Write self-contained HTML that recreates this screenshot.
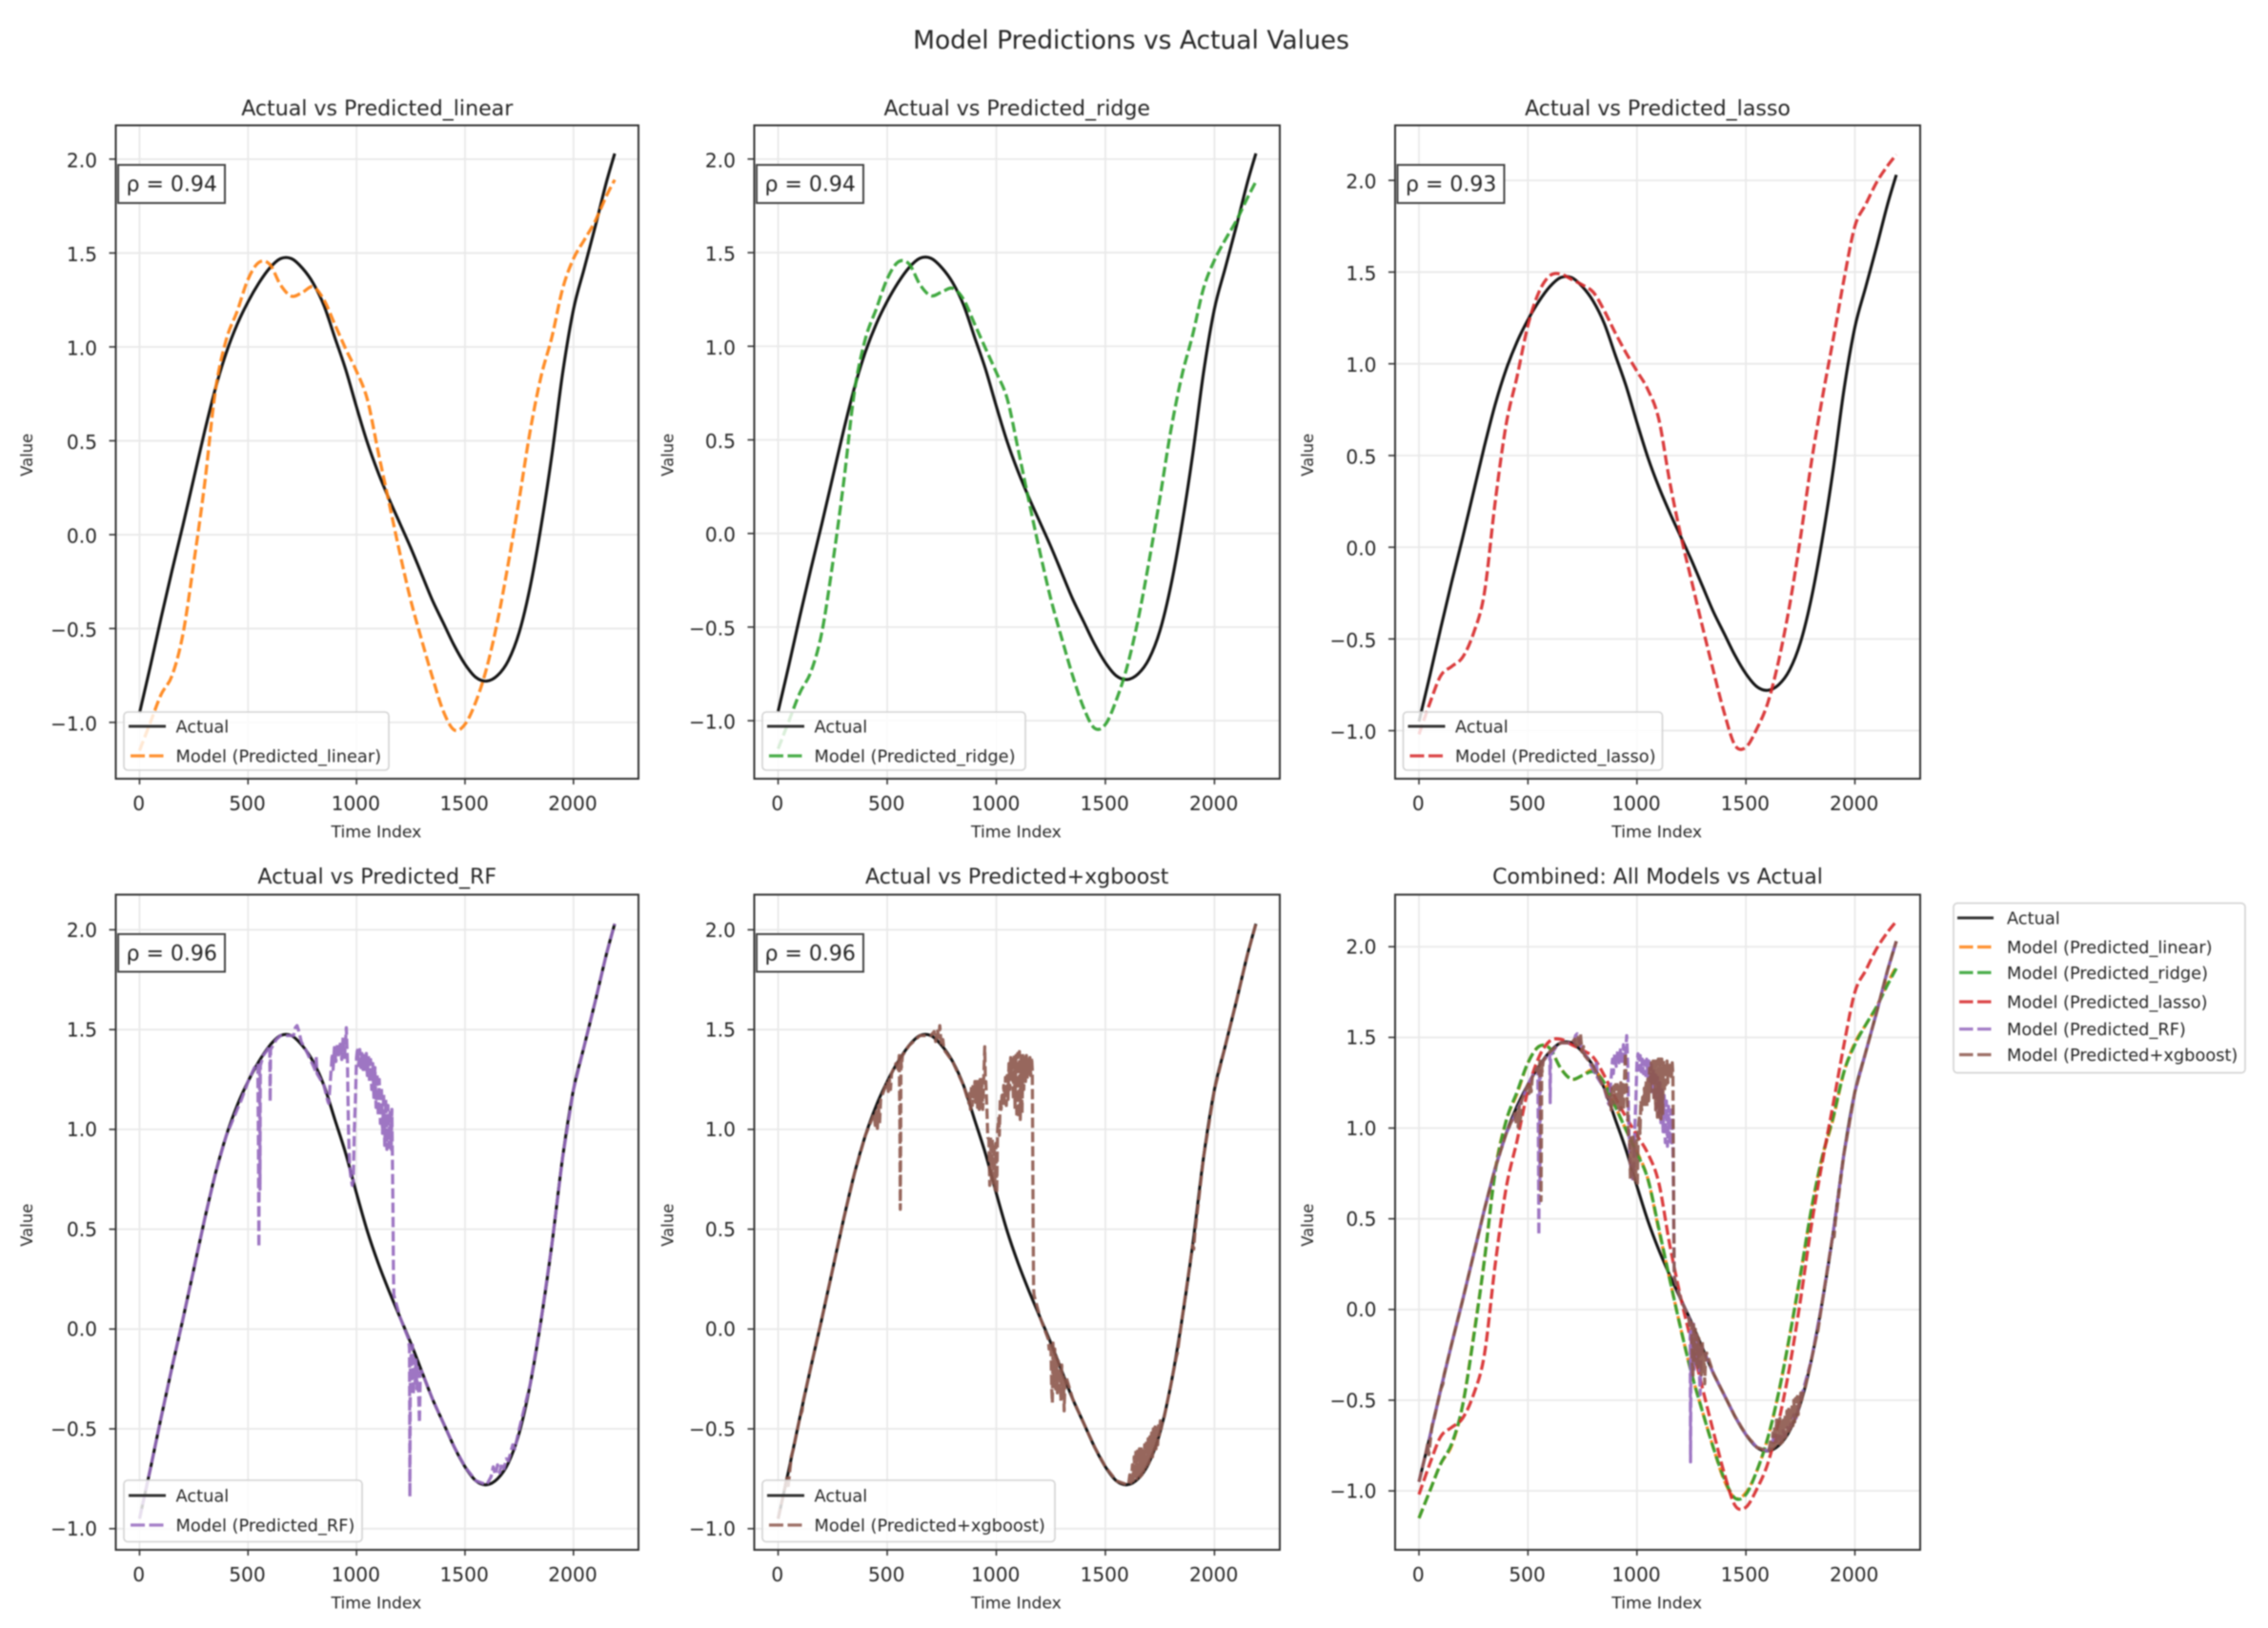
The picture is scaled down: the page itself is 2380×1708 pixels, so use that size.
<!DOCTYPE html>
<html lang="en">
<head>
<meta charset="utf-8">
<title>Model Predictions vs Actual Values</title>
<style>
html,body{margin:0;padding:0;background:#fff;width:2380px;height:1708px;overflow:hidden}
#figure{display:block;filter:blur(0.8px)}
text{font-family:"DejaVu Sans","Liberation Sans",sans-serif;fill:#262626}
</style>
</head>
<body>
<svg id="figure" xmlns="http://www.w3.org/2000/svg" width="2380" height="1708" viewBox="0 0 2380 1708">
<rect x="0" y="0" width="2380" height="1708" fill="#ffffff"/>
<text x="1187" y="51" font-size="26.5" text-anchor="middle">Model Predictions vs Actual Values</text>
</svg>
<script>
// ---------- data ----------
const timeIndex = [0,50,100,150,200,250,300,350,400,450,500,550,600,650,700,750,800,850,900,950,1000,1050,1100,1150,1200,1250,1300,1350,1400,1450,1500,1550,1600,1650,1700,1750,1800,1850,1900,1950,2000,2050,2100,2150,2190];
const actualValues = [-0.95,-0.70,-0.44,-0.19,0.05,0.30,0.55,0.78,0.97,1.12,1.24,1.34,1.42,1.47,1.47,1.42,1.34,1.22,1.05,0.88,0.68,0.49,0.33,0.19,0.06,-0.07,-0.21,-0.35,-0.47,-0.59,-0.69,-0.76,-0.78,-0.75,-0.67,-0.52,-0.28,0.04,0.42,0.86,1.20,1.42,1.64,1.87,2.03];
const linearValues = [-1.15,-1.00,-0.85,-0.75,-0.53,-0.15,0.27,0.77,1.04,1.19,1.36,1.45,1.44,1.33,1.27,1.29,1.32,1.25,1.12,0.99,0.87,0.72,0.44,0.17,-0.10,-0.35,-0.56,-0.76,-0.94,-1.04,-1.01,-0.89,-0.71,-0.46,-0.15,0.19,0.55,0.84,1.05,1.31,1.47,1.57,1.67,1.80,1.89];
const ridgeValues = [-1.15,-1.00,-0.85,-0.74,-0.53,-0.16,0.27,0.76,1.04,1.20,1.36,1.45,1.44,1.33,1.27,1.29,1.31,1.25,1.12,0.99,0.86,0.72,0.45,0.17,-0.10,-0.35,-0.56,-0.76,-0.93,-1.04,-1.02,-0.89,-0.71,-0.46,-0.15,0.19,0.55,0.84,1.06,1.31,1.46,1.57,1.67,1.79,1.88];
const lassoValues = [-1.02,-0.85,-0.70,-0.65,-0.60,-0.47,-0.25,0.25,0.67,0.93,1.21,1.39,1.48,1.49,1.46,1.43,1.39,1.29,1.17,1.06,0.96,0.86,0.70,0.36,0.07,-0.18,-0.43,-0.67,-0.90,-1.08,-1.09,-0.99,-0.85,-0.62,-0.32,0.05,0.46,0.81,1.13,1.46,1.75,1.87,1.99,2.08,2.14];

const rfTime = [
0,50,100,150,200,250,300,350,400,450,470,500,
530,545,548,550,552,553,555,557,570,590,600,602,
604,630,650,690,710,718,726,735,745,770,800,812,
814,818,850,868,872,880,888,892,898,905,912,918,
925,932,938,945,953,958,963,968,973,980,985,990,
995,1000,1005,1010,1015,1020,1025,1030,1035,1040,1045,1050,
1055,1060,1065,1070,1075,1080,1085,1090,1095,1100,1105,1110,
1115,1120,1125,1130,1135,1140,1145,1150,1155,1160,1163,1165,
1168,1170,1172,1200,1240,1244,1246,1248,1252,1255,1258,1262,
1266,1270,1274,1278,1282,1286,1290,1294,1300,1350,1400,1450,
1500,1550,1600,1620,1630,1640,1650,1660,1670,1680,1690,1700,
1710,1720,1730,1750,1800,1850,1900,1950,2000,2050,2100,2150,
2190];
const rfValues = [
-0.95,-0.70,-0.44,-0.19,0.05,0.30,0.55,0.78,0.97,1.10,1.15,1.24,
1.31,1.33,0.9,0.41,0.95,1.30,0.7,1.32,1.37,1.40,1.42,1.14,
1.40,1.45,1.47,1.47,1.47,1.51,1.52,1.49,1.44,1.39,1.32,1.29,
1.37,1.28,1.22,1.14,1.13,1.25,1.38,1.30,1.41,1.34,1.43,1.36,
1.44,1.35,1.46,1.36,1.51,1.35,1.0,0.82,0.77,0.72,0.74,1.0,
1.15,1.36,1.41,1.32,1.40,1.31,1.38,1.30,1.37,1.29,1.38,1.27,
1.37,1.24,1.35,1.20,1.33,1.16,1.31,1.11,1.28,1.07,1.25,1.03,
1.21,0.98,1.18,0.92,1.15,0.90,1.12,0.91,1.10,0.90,1.10,0.90,
0.6,0.3,0.17,0.06,-0.05,-0.1,-0.84,-0.2,-0.12,-0.30,-0.08,-0.33,
-0.15,-0.27,-0.14,-0.30,-0.18,-0.32,-0.47,-0.22,-0.21,-0.35,-0.47,-0.59,
-0.69,-0.76,-0.78,-0.74,-0.69,-0.73,-0.68,-0.72,-0.67,-0.70,-0.65,-0.66,
-0.62,-0.58,-0.60,-0.50,-0.28,0.04,0.42,0.86,1.20,1.42,1.64,1.87,
2.03];

const xgbTime = [
0,30,40,45,60,70,100,110,115,150,200,250,
300,350,400,440,445,450,455,460,465,470,500,505,
510,515,520,540,550,555,558,560,562,563,565,570,
600,650,700,715,722,730,736,741,748,755,760,800,
850,875,878,882,886,890,894,898,902,906,910,914,
918,922,926,930,934,938,942,947,950,952,957,961,
966,970,974,978,982,986,990,994,998,1002,1006,1011,
1014,1018,1022,1026,1030,1034,1038,1042,1046,1050,1054,1058,
1062,1066,1070,1074,1078,1082,1086,1090,1094,1098,1102,1106,
1110,1114,1118,1122,1126,1130,1134,1138,1142,1146,1150,1154,
1158,1162,1165,1167,1169,1171,1173,1200,1238,1242,1246,1250,
1254,1257,1260,1264,1268,1272,1276,1280,1284,1288,1292,1296,
1300,1304,1308,1311,1315,1320,1350,1400,1450,1500,1550,1600,
1606,1612,1618,1624,1628,1632,1636,1640,1644,1648,1652,1656,
1660,1664,1668,1672,1676,1680,1684,1688,1692,1696,1700,1704,
1708,1712,1716,1720,1724,1728,1732,1736,1740,1744,1748,1752,
1756,1762,1770,1800,1825,1830,1850,1900,1905,1910,1950,2000,
2050,2100,2150,2190];
const xgbValues = [
-0.95,-0.80,-0.74,-0.80,-0.64,-0.60,-0.44,-0.41,-0.36,-0.19,0.05,0.30,
0.55,0.78,0.97,1.08,1.02,1.10,1.005,1.12,1.03,1.15,1.24,1.19,
1.25,1.20,1.28,1.33,1.30,1.37,1.0,0.60,1.0,1.36,1.31,1.37,
1.42,1.47,1.47,1.49,1.44,1.50,1.46,1.52,1.42,1.45,1.40,1.34,
1.22,1.13,1.19,1.10,1.22,1.12,1.23,1.15,1.24,1.12,1.24,1.11,
1.24,1.10,1.25,1.11,1.25,1.10,1.24,1.414,1.24,1.24,1.10,0.96,
0.95,0.72,0.96,0.74,0.95,0.72,0.93,0.70,0.93,0.68,1.0,1.056,
0.97,1.15,1.10,1.17,1.13,1.22,1.13,1.26,1.12,1.27,1.15,1.33,
1.20,1.36,1.25,1.37,1.15,1.37,1.10,1.37,1.06,1.38,1.06,1.39,
1.05,1.38,1.08,1.37,1.20,1.36,1.24,1.37,1.25,1.35,1.28,1.36,
1.27,1.36,1.30,0.9,0.5,0.2,0.17,0.06,-0.05,-0.10,-0.08,-0.07,
-0.30,-0.37,-0.07,-0.28,-0.10,-0.30,-0.14,-0.32,-0.16,-0.30,-0.20,-0.36,
-0.18,-0.34,-0.24,-0.41,-0.26,-0.24,-0.35,-0.47,-0.59,-0.69,-0.76,-0.78,
-0.78,-0.73,-0.77,-0.68,-0.76,-0.64,-0.75,-0.61,-0.75,-0.60,-0.74,-0.60,
-0.74,-0.60,-0.73,-0.61,-0.71,-0.58,-0.70,-0.56,-0.69,-0.55,-0.67,-0.54,
-0.65,-0.52,-0.64,-0.50,-0.62,-0.49,-0.60,-0.48,-0.58,-0.47,-0.53,-0.46,
-0.50,-0.46,-0.44,-0.28,-0.14,-0.12,0.04,0.42,0.40,0.48,0.86,1.20,
1.42,1.64,1.87,2.03];

const xTickValues = [0,500,1000,1500,2000];
const yTickValues = [-1.0,-0.5,0.0,0.5,1.0,1.5,2.0];
const xDomain = [-109.5,2299.5];
const yDomainLinear = [-1.30,2.18];
const yDomainRidge = [-1.31,2.18];
const yDomainLasso = [-1.262,2.30];
const yDomainRF = [-1.106,2.176];
const yDomainXgb = [-1.106,2.176];
const yDomainCombined = [-1.325,2.287];
const rhoLinear = "ρ = 0.94";
const rhoRidge = "ρ = 0.94";
const rhoLasso = "ρ = 0.93";
const rhoRF = "ρ = 0.96";
const rhoXgb = "ρ = 0.96";

// ---------- series definitions ----------
const seriesLinear = {key:'linear',label:'Model (Predicted_linear)',color:'#ff7f0e',t:timeIndex,v:linearValues,smooth:true};
const seriesRidge = {key:'ridge',label:'Model (Predicted_ridge)',color:'#2ca02c',t:timeIndex,v:ridgeValues,smooth:true};
const seriesLasso = {key:'lasso',label:'Model (Predicted_lasso)',color:'#d62728',t:timeIndex,v:lassoValues,smooth:true};
const seriesRF = {key:'rf',label:'Model (Predicted_RF)',color:'#9467bd',t:rfTime,v:rfValues,smooth:false};
const seriesXgb = {key:'xgboost',label:'Model (Predicted+xgboost)',color:'#8c564b',t:xgbTime,v:xgbValues,smooth:false};

// ---------- layout ----------
const NS = 'http://www.w3.org/2000/svg';
const root = document.getElementById('figure');
const rowTop = [131.5,938.6], rowBottom = [817,1626];
const colLeft = [121.5,791.5,1464], colRight = [670,1343,2015];
const rhoBoxTop = [173,980], rhoBoxHeight = [40,39.5];
const legendTop = [747,1553], legendHeight = [61,64.5];
const legendRowA = [762,1569], legendRowB = [793,1600];
const yLabelX = [28,700.5,1372];
const rowTextNudge = [1.2,0];

function svgEl(parent, tag, attrs, name) {
  const el = document.createElementNS(NS, tag);
  for (const k in attrs) el.setAttribute(k, attrs[k]);
  
  
  parent.appendChild(el);
  return el;
}
function label(parent, x, y, str, size, anchor, name, transform) {
  const a = {x:x, y:y, 'font-size':size, 'text-anchor':anchor};
  if (transform) a.transform = transform;
  const el = svgEl(parent, 'text', a, name);
  el.textContent = str;
  return el;
}
function xAxisScale(left, right) {
  return t => left + (t - xDomain[0]) * (right - left) / (xDomain[1] - xDomain[0]);
}
function yAxisScale(top, bottom, dom) {
  return v => bottom - (v - dom[0]) * (bottom - top) / (dom[1] - dom[0]);
}
function fmtTick(v) {
  return (v < 0 ? '\u2212' : '') + Math.abs(v).toFixed(1);
}
// curve through the mapped data points (keeps the reference's smooth look)
function curvePath(px, py) {
  let d = 'M' + px[0].toFixed(2) + ' ' + py[0].toFixed(2);
  const n = px.length;
  for (let i = 0; i < n - 1; i++) {
    const i0 = Math.max(i - 1, 0), i3 = Math.min(i + 2, n - 1);
    const c1x = px[i] + (px[i+1] - px[i0]) / 6, c1y = py[i] + (py[i+1] - py[i0]) / 6;
    const c2x = px[i+1] - (px[i3] - px[i]) / 6, c2y = py[i+1] - (py[i3] - py[i]) / 6;
    d += 'C' + c1x.toFixed(2) + ' ' + c1y.toFixed(2) + ' ' + c2x.toFixed(2) + ' ' + c2y.toFixed(2) + ' ' + px[i+1].toFixed(2) + ' ' + py[i+1].toFixed(2);
  }
  return d;
}
function drawActual(g, sx, sy) {
  const d = curvePath(timeIndex.map(sx), actualValues.map(sy));
  svgEl(g, 'path', {d:d, fill:'none', stroke:'#141414', 'stroke-width':3.1, 'stroke-linejoin':'round'}, 'actual-line');
}
function drawModel(g, s, sx, sy) {
  const n = Math.min(s.t.length, s.v.length);
  const style = {fill:'none', stroke:s.color, 'stroke-opacity':0.9, 'stroke-width':3.3, 'stroke-dasharray':'10.8,4.2', 'stroke-linejoin':'round'};
  if (s.smooth) {
    style.d = curvePath(s.t.slice(0,n).map(sx), s.v.slice(0,n).map(sy));
    svgEl(g, 'path', style, s.key + '-prediction-line');
  } else {
    const pts = [];
    for (let i = 0; i < n; i++) pts.push(sx(s.t[i]).toFixed(2) + ',' + sy(s.v[i]).toFixed(2));
    style.points = pts.join(' ');
    svgEl(g, 'polyline', style, s.key + '-prediction-line');
  }
}

function drawPanel(cfg) {
  const left = colLeft[cfg.col], right = colRight[cfg.col], top = rowTop[cfg.row], bottom = rowBottom[cfg.row];
  const sx = xAxisScale(left, right), sy = yAxisScale(top, bottom, cfg.yDomain);
  const nudge = rowTextNudge[cfg.row];
  const g = svgEl(root, 'g', {}, cfg.name);
  const grid = svgEl(g, 'g', {stroke:'#e9e9e9', 'stroke-width':1.8}, 'gridlines');
  xTickValues.forEach(t => {
    svgEl(grid, 'line', {x1:sx(t), x2:sx(t), y1:top, y2:bottom}, 'x-gridline');
  });
  yTickValues.forEach(v => {
    svgEl(grid, 'line', {x1:left, x2:right, y1:sy(v), y2:sy(v)}, 'y-gridline');
  });
  drawActual(g, sx, sy);
  cfg.series.forEach(s => drawModel(g, s, sx, sy));
  svgEl(g, 'rect', {x:left, y:top, width:right-left, height:bottom-top, fill:'none', stroke:'#333333', 'stroke-width':2}, 'plot-frame');
  const xAxis = svgEl(g, 'g', {}, 'x-axis');
  xTickValues.forEach(t => {
    svgEl(xAxis, 'line', {x1:sx(t), x2:sx(t), y1:bottom, y2:bottom+6, stroke:'#333333', 'stroke-width':1.6}, 'x-tick');
    label(xAxis, sx(t)-0.8, bottom+33, String(t), 20.2, 'middle', 'x-tick-label');
  });
  const yAxis = svgEl(g, 'g', {}, 'y-axis');
  yTickValues.forEach(v => {
    svgEl(yAxis, 'line', {x1:left-7, x2:left, y1:sy(v), y2:sy(v), stroke:'#333333', 'stroke-width':1.6}, 'y-tick');
    label(yAxis, left-19.5, sy(v)+7.3+nudge, fmtTick(v), 20.2, 'end', 'y-tick-label');
  });
  label(g, (left+right)/2, top-11.5+nudge, cfg.title, 22.1, 'middle', 'panel-title');
  label(g, (left+right)/2-0.8, bottom+61.5, 'Time Index', 17.2, 'middle', 'x-axis-title');
  const lx = yLabelX[cfg.col], ly = (top+bottom)/2 + 3;
  label(g, 0, 0, 'Value', 16.4, 'middle', 'y-axis-title', 'translate(' + (lx+6) + ',' + ly + ') rotate(-90)');
  if (cfg.rho) {
    const by = rhoBoxTop[cfg.row], bh = rhoBoxHeight[cfg.row];
    const box = svgEl(g, 'g', {}, 'correlation-annotation');
    svgEl(box, 'rect', {x:left+2.5, y:by, width:112, height:bh, fill:'#ffffff', stroke:'#444444', 'stroke-width':2}, 'correlation-box');
    label(box, left+11, by+bh/2+7.7, cfg.rho, 22, 'start', 'correlation-value');
  }
  if (cfg.legendWidth) {
    const lg = svgEl(g, 'g', {}, 'legend');
    const lgx = left + 8.5;
    svgEl(lg, 'rect', {x:lgx, y:legendTop[cfg.row], width:cfg.legendWidth, height:legendHeight[cfg.row], rx:4, fill:'#ffffff', 'fill-opacity':0.8, stroke:'#d2d2d2', 'stroke-width':1.6}, 'legend-frame');
    const a = legendRowA[cfg.row], b = legendRowB[cfg.row];
    svgEl(lg, 'line', {x1:lgx+5, x2:lgx+44, y1:a, y2:a, stroke:'#333333', 'stroke-width':3}, 'legend-handle-actual');
    label(lg, lgx+54.5, a+6.5, 'Actual', 17.8, 'start', 'legend-label-actual');
    const s = cfg.series[0];
    svgEl(lg, 'line', {x1:lgx+7, x2:lgx+42, y1:b, y2:b, stroke:s.color, 'stroke-opacity':0.85, 'stroke-width':3.2, 'stroke-dasharray':'15,4.5'}, 'legend-handle-model');
    label(lg, lgx+54.5, b+6.5, s.label, 17.8, 'start', 'legend-label-model');
  }
}

drawPanel({name:'panel-linear', title:'Actual vs Predicted_linear', row:0, col:0, yDomain:yDomainLinear, series:[seriesLinear], rho:rhoLinear, legendWidth:278});
drawPanel({name:'panel-ridge', title:'Actual vs Predicted_ridge', row:0, col:1, yDomain:yDomainRidge, series:[seriesRidge], rho:rhoRidge, legendWidth:276});
drawPanel({name:'panel-lasso', title:'Actual vs Predicted_lasso', row:0, col:2, yDomain:yDomainLasso, series:[seriesLasso], rho:rhoLasso, legendWidth:272});
drawPanel({name:'panel-rf', title:'Actual vs Predicted_RF', row:1, col:0, yDomain:yDomainRF, series:[seriesRF], rho:rhoRF, legendWidth:250});
drawPanel({name:'panel-xgboost', title:'Actual vs Predicted+xgboost', row:1, col:1, yDomain:yDomainXgb, series:[seriesXgb], rho:rhoXgb, legendWidth:307});
drawPanel({name:'panel-combined', title:'Combined: All Models vs Actual', row:1, col:2, yDomain:yDomainCombined, series:[seriesLinear,seriesRidge,seriesLasso,seriesRF,seriesXgb]});

// outside legend for the combined panel
const outerLegend = svgEl(root, 'g', {}, 'combined-legend');
svgEl(outerLegend, 'rect', {x:2050, y:947.6, width:306, height:178, rx:4, fill:'#ffffff', stroke:'#d2d2d2', 'stroke-width':1.6}, 'combined-legend-frame');
svgEl(outerLegend, 'line', {x1:2054, x2:2092, y1:963, y2:963, stroke:'#333333', 'stroke-width':3}, 'combined-legend-handle-actual');
label(outerLegend, 2106, 969.5, 'Actual', 17.8, 'start', 'combined-legend-label-actual');
const outerSeries = [seriesLinear,seriesRidge,seriesLasso,seriesRF,seriesXgb];
const outerRows = [993.5,1020.4,1051,1079.6,1106.5];
outerSeries.forEach((s,i) => {
  const y = outerRows[i];
  svgEl(outerLegend, 'line', {x1:2056, x2:2090, y1:y, y2:y, stroke:s.color, 'stroke-opacity':0.85, 'stroke-width':3.2, 'stroke-dasharray':'14.5,4.5'}, 'combined-legend-handle-' + s.key);
  label(outerLegend, 2106, y+6.5, s.label, 17.8, 'start', 'combined-legend-label-' + s.key);
});
</script>
</body>
</html>
